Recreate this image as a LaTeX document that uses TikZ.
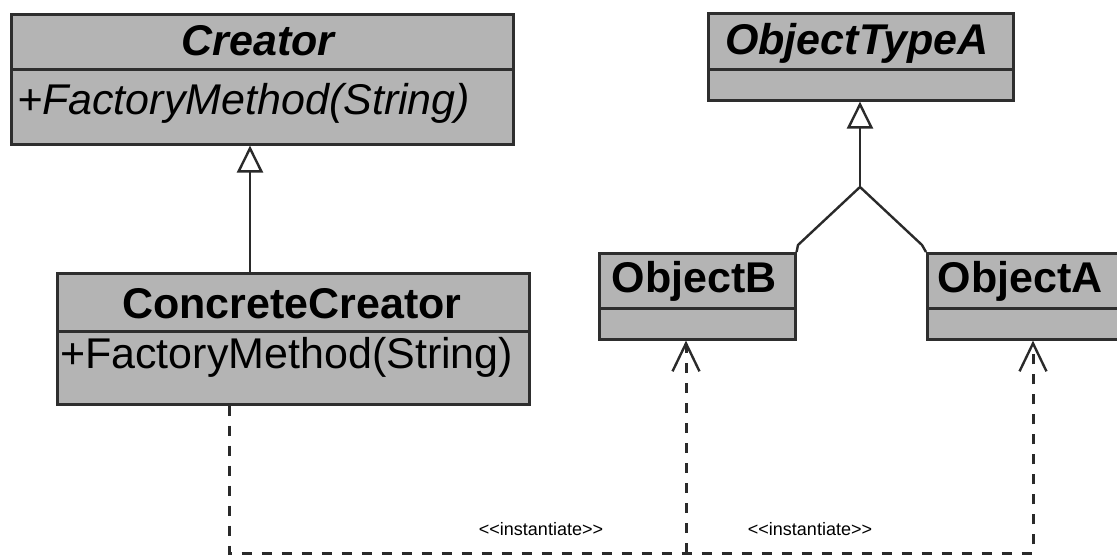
\documentclass[tikz,border=0pt]{standalone}
\usepackage{fontspec}
\setmainfont{Liberation Sans}
\usetikzlibrary{arrows.meta}

\definecolor{boxfill}{HTML}{B4B4B4}
\definecolor{boxline}{HTML}{2E2E2E}
\definecolor{wire}{HTML}{2A2A2A}

\tikzset{
  part/.style={draw=boxline, fill=boxfill, line width=2.6pt, inner sep=0pt,
               anchor=north west, line join=miter},
  bigtext/.style={inner sep=0pt, font=\fontsize{43}{50}\selectfont},
  classname/.style={bigtext, anchor=base, font=\fontsize{43}{50}\selectfont\bfseries},
  absname/.style={bigtext, anchor=base, font=\fontsize{43}{50}\selectfont\bfseries\itshape},
  opline/.style={bigtext, anchor=base west},
  absop/.style={bigtext, anchor=base west, font=\fontsize{43}{50}\selectfont\itshape},
  stereo/.style={inner sep=0pt, anchor=base, font=\fontsize{18}{21}\selectfont},
  genline/.style={draw=wire, line width=2.4pt, line join=round},
  genarrow/.style={genline, -{Triangle[open, length=27pt, width=26pt, fill=white]}},
  depline/.style={draw=wire, line width=3pt, dash pattern=on 10pt off 10pt},
  deparrow/.style={depline, -{Straight Barb[length=28pt, width=27pt, line width=2.4pt]}},
}

\begin{document}
\begin{tikzpicture}[x=1pt, y=-1pt]
  \useasboundingbox (0,0) rectangle (1117,556);
  \clip (0,0) rectangle (1117,556);

  % Creator (abstract)
  \node[part, minimum width=502pt, minimum height=55pt] (creatorHead) at (10,13) {};
  \node[part, minimum width=502pt, minimum height=75pt] (creatorBody) at (10,68) {};
  \node[absname] (creatorName) at (258,56) {Creator};
  \node[absop] (creatorOp) at (17,115) {+FactoryMethod(String)};

  % ConcreteCreator
  \node[part, minimum width=472pt, minimum height=58pt] (ccHead) at (56,272) {};
  \node[part, minimum width=472pt, minimum height=73pt] (ccBody) at (56,330) {};
  \node[classname] (ccName) at (292,318) {ConcreteCreator};
  \node[opline] (ccOp) at (60,368) {+FactoryMethod(String)};

  % ObjectTypeA (abstract)
  \node[part, minimum width=305pt, minimum height=56pt] (typeHead) at (707,12) {};
  \node[part, minimum width=305pt, minimum height=31pt] (typeBody) at (707,68) {};
  \node[absname] (typeName) at (857,55) {ObjectTypeA};

  % ObjectB
  \node[part, minimum width=196pt, minimum height=55pt] (objBHead) at (598,252) {};
  \node[part, minimum width=196pt, minimum height=31pt] (objBBody) at (598,307) {};
  \node[classname] (objBName) at (694,293) {ObjectB};

  % ObjectA
  \node[part, minimum width=210pt, minimum height=55pt] (objAHead) at (926,252) {};
  \node[part, minimum width=210pt, minimum height=31pt] (objABody) at (926,307) {};
  \node[classname] (objAName) at (1020,293) {ObjectA};

  % Generalisation: ConcreteCreator -> Creator
  \coordinate (genX) at (250,0);
  \draw[genarrow] (ccHead.north -| genX) -- (creatorBody.south -| genX);

  % Generalisation tree: ObjectB, ObjectA -> ObjectTypeA
  \coordinate (fork) at (860,187);
  \coordinate (bendB) at (798,245);
  \coordinate (bendA) at (922,245);
  \draw[genarrow] (fork) -- (typeBody.south -| fork);
  \draw[genline] (objBHead.north east) -- (bendB) -- (fork) -- (bendA) -- (objAHead.north west);

  % Instantiation dependencies
  \coordinate (ccX) at (229,0);
  \coordinate (bX) at (686,0);
  \coordinate (aX) at (1033,0);
  \coordinate (busY) at (0,553);
  \draw[deparrow] (ccBody.south -| ccX) -- (ccX |- busY) -- (aX |- busY) -- (objABody.south -| aX);
  \draw[deparrow] (bX |- busY) -- (objBBody.south -| bX);

  \node[stereo] (instB) at (541,535) {{<}{<}instantiate{>}{>}};
  \node[stereo] (instA) at (810,535) {{<}{<}instantiate{>}{>}};
\end{tikzpicture}
\end{document}
